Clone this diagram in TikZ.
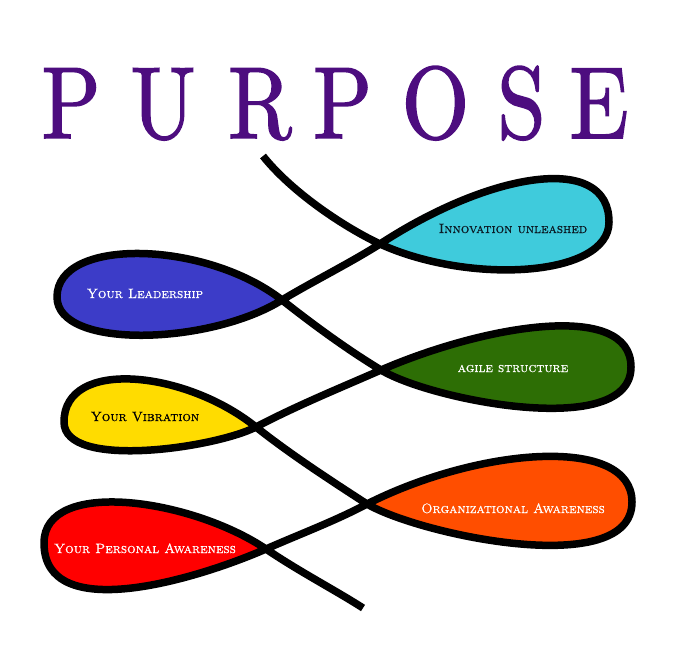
\documentclass[tikz,border=0pt]{standalone}
\usepackage{fontspec}
\usepackage{graphicx}
\newfontfamily\ttlfont{lmroman10-regular.otf}[FakeBold=1.6]
\newfontfamily\lblfont{lmromancaps10-regular.otf}[FakeBold=0.7]
\definecolor{ttlpurple}{HTML}{4D0D7F}
\definecolor{innovcol}{HTML}{3FCBDC}
\definecolor{leadcol}{HTML}{3C3CC8}
\definecolor{agilecol}{HTML}{2D6E05}
\definecolor{vibcol}{HTML}{FFDC00}
\definecolor{orgcol}{HTML}{FF4E00}
\definecolor{perscol}{HTML}{FF0000}
\definecolor{innovtxt}{HTML}{0B1A24}
\tikzset{
  titleletter/.style={anchor=base, inner sep=0pt, text=ttlpurple, font=\ttlfont\fontsize{102}{102}\selectfont},
  looplabel/.style={anchor=base, inner sep=0pt, font=\lblfont\fontsize{13.5}{14}\selectfont},
  ribbon/.style={draw=black, line width=7.5pt, line join=round, line cap=butt}
}
\newcommand{\tl}[1]{\scalebox{0.85}[1]{#1}}
\begin{document}
\begin{tikzpicture}[x=1pt,y=-1pt]
\useasboundingbox (0,0) rectangle (700,651);
% title
\node[titleletter] (t1) at (71,138) {\tl{P}};
\node[titleletter] (t2) at (163,138) {\tl{U}};
\node[titleletter] (t3) at (260,138) {\tl{R}};
\node[titleletter] (t4) at (342.5,138) {\tl{P}};
\node[titleletter] (t5) at (435.5,138) {\tl{O}};
\node[titleletter] (t6) at (521.5,138) {\tl{S}};
\node[titleletter] (t7) at (599,138) {\tl{E}};
% key points
\coordinate (s) at (263,156);
\coordinate (c1) at (380,244);
\coordinate (c2) at (282,300);
\coordinate (c3) at (381,370);
\coordinate (c4) at (256,427);
\coordinate (c5) at (367,504);
\coordinate (c6) at (266,549);
\coordinate (e) at (363,608);
\coordinate (p1) at (609,222);
\coordinate (p2) at (57,297);
\coordinate (p3) at (631,367);
\coordinate (p4) at (64,422);
\coordinate (p5) at (632,502);
\coordinate (p6) at (44,543);
% fills
\fill[innovcol] (c1) .. controls (470,285) and (609,277) .. (p1) .. controls (609,152) and (490,172) .. (c1) -- cycle;
\fill[leadcol] (c2) .. controls (210,345) and (57,350) .. (p2) .. controls (57,237) and (205,240) .. (c2) -- cycle;
\fill[agilecol] (c3) .. controls (430,400) and (631,440) .. (p3) .. controls (631,300) and (485,325) .. (c3) -- cycle;
\fill[vibcol] (c4) .. controls (215,448) and (64,470) .. (p4) .. controls (64,358) and (185,370) .. (c4) -- cycle;
\fill[orgcol] (c5) .. controls (420,535) and (632,580) .. (p5) .. controls (632,435) and (480,447) .. (c5) -- cycle;
\fill[perscol] (c6) .. controls (195,580) and (44,625) .. (p6) .. controls (44,478) and (190,498) .. (c6) -- cycle;
% the ribbon line
\draw[ribbon] (s) .. controls (290,190) and (340,225) .. (c1)
  .. controls (470,285) and (609,277) .. (p1)
  .. controls (609,152) and (490,172) .. (c1)
  .. controls (350,263) and (310,283) .. (c2)
  .. controls (210,345) and (57,350) .. (p2)
  .. controls (57,237) and (205,240) .. (c2)
  .. controls (315,326) and (348,350) .. (c3)
  .. controls (430,400) and (631,440) .. (p3)
  .. controls (631,300) and (485,325) .. (c3)
  .. controls (340,388) and (298,405) .. (c4)
  .. controls (215,448) and (64,470) .. (p4)
  .. controls (64,358) and (185,370) .. (c4)
  .. controls (290,454) and (330,480) .. (c5)
  .. controls (420,535) and (632,580) .. (p5)
  .. controls (632,435) and (480,447) .. (c5)
  .. controls (335,521) and (300,534) .. (c6)
  .. controls (195,580) and (44,625) .. (p6)
  .. controls (44,478) and (190,498) .. (c6)
  .. controls (300,572) and (335,590) .. (e);
% labels
\node[looplabel, text=innovtxt] (linnov) at (513,233) {Innovation unleashed};
\node[looplabel, text=white] (llead) at (145,298) {Your Leadership};
\node[looplabel, text=white] (lagile) at (513,372) {agile structure};
\node[looplabel, text=black] (lvib) at (145,421) {Your Vibration};
\node[looplabel, text=white] (lorg) at (513,513) {Organizational Awareness};
\node[looplabel, text=white] (lpers) at (145,553) {Your Personal Awareness};
\end{tikzpicture}
\end{document}
